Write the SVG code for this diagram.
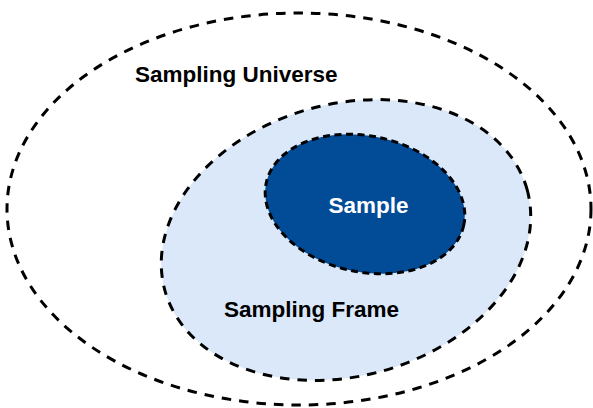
<svg xmlns="http://www.w3.org/2000/svg" width="593" height="408" viewBox="0 0 593 408">
  <style>
    .ring { stroke: #000; stroke-width: 3; stroke-dasharray: 9.5 8; }
    .ring.small { stroke-dasharray: 7 4.5; }
    .label { font-family: "Liberation Sans", Arial, sans-serif; font-weight: bold; font-size: 22.5px; }
  </style>
  <rect width="593" height="408" fill="#fff"/>
  <g id="universe">
    <ellipse class="ring" cx="299" cy="209" rx="292" ry="196" fill="none"/>
    <text class="label" x="135" y="82" fill="#000">Sampling Universe</text>
  </g>
  <g id="frame">
    <ellipse class="ring" cx="346" cy="240" rx="188" ry="136" transform="rotate(-15.6 346 240)" fill="#dbe8f9"/>
    <text class="label" x="224" y="317" fill="#000">Sampling Frame</text>
  </g>
  <g id="sample">
    <ellipse class="ring small" cx="365" cy="204" rx="101" ry="68" transform="rotate(12 365 204)" fill="#024b97"/>
    <text class="label" x="368.5" y="213" text-anchor="middle" fill="#fff">Sample</text>
  </g>
  <g id="connectors"/>
</svg>
